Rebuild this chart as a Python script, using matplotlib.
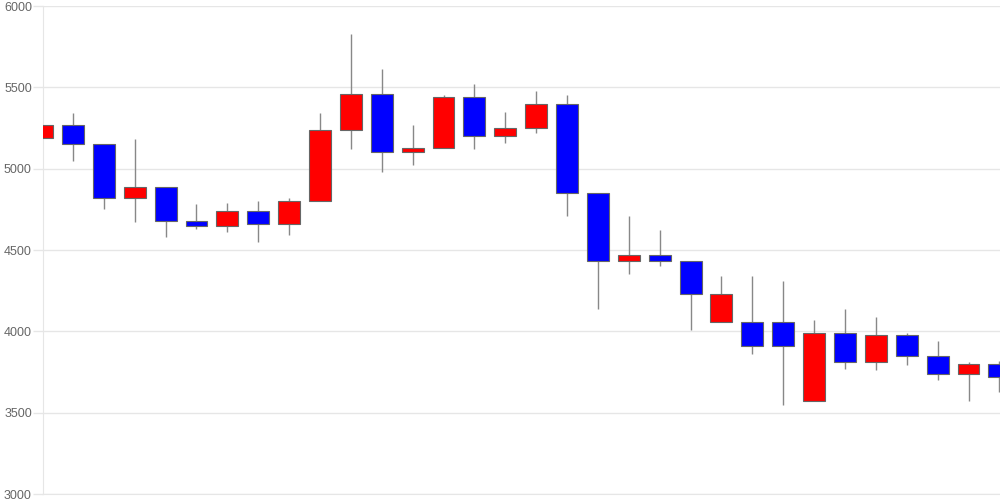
import numpy as np
import matplotlib
matplotlib.use('Agg')
import matplotlib.pyplot as plt

# OHLC values (32 sessions)
opens = [5190, 5270, 5150, 4820, 4890, 4680, 4650, 4740, 4660, 4800,
         5240, 5460, 5100, 5130, 5440, 5200, 5250, 5400, 4850, 4430,
         4470, 4430, 4060, 4060, 4060, 3570, 3990, 3810, 3980, 3850,
         3740, 3800]
highs = [5420, 5340, 5150, 5180, 4890, 4780, 4790, 4800, 4820, 5340,
         5830, 5610, 5270, 5450, 5520, 5350, 5480, 5450, 4850, 4710,
         4620, 4430, 4340, 4340, 4310, 4070, 4140, 4090, 3990, 3940,
         3810, 3820]
lows = [5090, 5050, 4750, 4670, 4580, 4630, 4610, 4550, 4590, 4800,
        5120, 4980, 5020, 5130, 5120, 5160, 5220, 4710, 4140, 4350,
        4400, 4010, 4060, 3860, 3550, 3570, 3770, 3760, 3790, 3700,
        3570, 3630]
closes = [5270, 5150, 4820, 4890, 4680, 4650, 4740, 4660, 4800, 5240,
          5460, 5100, 5130, 5440, 5200, 5250, 5400, 4850, 4430, 4470,
          4430, 4230, 4230, 3910, 3910, 3990, 3810, 3980, 3850, 3740,
          3800, 3720]
y_ticks = [3000, 3500, 4000, 4500, 5000, 5500, 6000]

plt.rcParams['font.family'] = ['Liberation Sans', 'DejaVu Sans']

opens = np.asarray(opens)
closes = np.asarray(closes)
x = np.arange(len(opens))

fig = plt.figure(figsize=(10, 5), dpi=100)
ax = fig.add_axes([0.043, 0.012, 0.957, 0.976])

# wicks
ax.vlines(x, lows, highs, color='#888888', linewidth=1, zorder=2)

# bodies
up = closes >= opens
colors = np.where(up, '#ff0000', '#0000ff')
ax.bar(x, np.abs(closes - opens), bottom=np.minimum(opens, closes), width=0.71,
       color=colors, edgecolor='#666666', linewidth=0.8, zorder=3)

ax.set_xlim(0.03, 31.02)
ax.set_ylim(3000, 6000)
ax.set_yticks(y_ticks)
ax.set_yticklabels([str(t) for t in y_ticks])
ax.set_xticks([])
ax.grid(axis='y', color='#e6e6e6', linewidth=1, zorder=0)
ax.tick_params(axis='y', length=7.5, width=1, color='#e6e6e6', labelcolor='#666666',
               labelsize=9, pad=0.5)
for side in ['top', 'right']:
    ax.spines[side].set_visible(False)
ax.spines['left'].set_color('#e6e6e6')
ax.spines['bottom'].set_color('#e6e6e6')

fig.savefig('out.png', dpi=100)
